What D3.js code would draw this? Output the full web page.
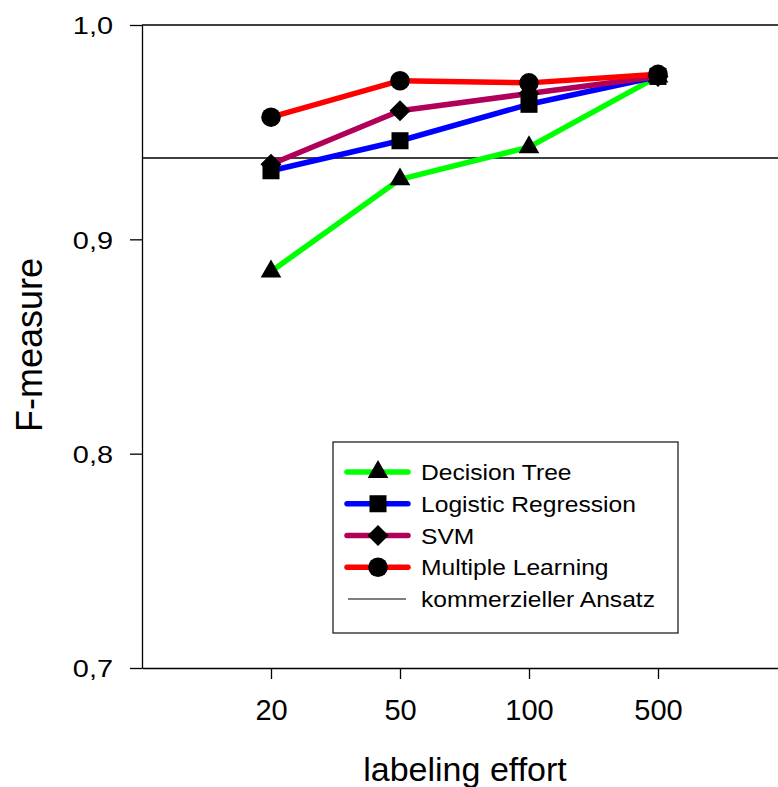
<!DOCTYPE html>
<html><head><meta charset="utf-8">
<script src="https://cdn.jsdelivr.net/npm/d3@7"></script>
<style>body{margin:0;background:#fff}svg{display:block}text{font-family:"Liberation Sans",Arial,sans-serif;fill:#000}</style>
</head><body>
<svg id="c" width="778" height="787"></svg>
<script>
const categories = ["20","50","100","500"];
const decisionTree = [0.885, 0.928, 0.943, 0.976];
const logisticRegression = [0.932, 0.946, 0.963, 0.976];
const svm = [0.935, 0.960, 0.968, 0.976];
const multipleLearning = [0.957, 0.974, 0.973, 0.977];
const commercial = 0.938;
const yTicks = [0.7, 0.8, 0.9, 1.0];
const seriesNames = ["Decision Tree","Logistic Regression","SVM","Multiple Learning"];
const commercialName = "kommerzieller Ansatz";

// square diamond symbol (rotated square)
const symbolDiamondSq = {
  draw(ctx, size) {
    const r = Math.sqrt(size / 2);
    ctx.moveTo(0, -r); ctx.lineTo(r, 0); ctx.lineTo(0, r); ctx.lineTo(-r, 0); ctx.closePath();
  }
};

const series = [
  {name: seriesNames[0], values: decisionTree, color: "#00ff00", sym: d3.symbolTriangle, size: 185},
  {name: seriesNames[1], values: logisticRegression, color: "#0000ff", sym: d3.symbolSquare, size: 290},
  {name: seriesNames[2], values: svm, color: "#b0005a", sym: symbolDiamondSq, size: 220},
  {name: seriesNames[3], values: multipleLearning, color: "#ff0000", sym: d3.symbolCircle, size: 300}
];

const svg = d3.select("#c");
const L = 142, T = 25, B = 668, R = 787;
const x = d3.scalePoint().domain(["", ...categories, " "]).range([L, R]);
const y = d3.scaleLinear().domain([0.7, 1.0]).range([B, T]);

// frame
svg.append("line").attr("x1", L).attr("x2", R).attr("y1", T).attr("y2", T).attr("stroke", "#000").attr("stroke-width", 1.3);
const yAxis = svg.append("g").attr("transform", `translate(${L},0)`)
  .call(d3.axisLeft(y).tickValues(yTicks).tickSize(12).tickSizeOuter(0).tickFormat(d => d3.format(".1f")(d).replace(".", ",")));
yAxis.select(".domain").attr("stroke-width", 1.3);
yAxis.selectAll(".tick line").attr("stroke-width", 1.3);
yAxis.selectAll(".tick text").attr("x", -24.6).attr("dy", "0.36em").attr("transform", "scale(1.18,1)")
  .style("font-size", "24.5px").style("font-family", '"Liberation Sans",Arial,sans-serif');

const xAxis = svg.append("g").attr("transform", `translate(0,${B})`)
  .call(d3.axisBottom(x).tickValues(categories).tickSize(11).tickSizeOuter(0));
xAxis.select(".domain").attr("stroke-width", 1.3);
xAxis.selectAll(".tick line").attr("stroke-width", 1.3);
xAxis.selectAll(".tick text").attr("y", 52).attr("dy", 0).style("font-size", "29px").style("font-family", '"Liberation Sans",Arial,sans-serif');

// commercial reference line
svg.append("line").attr("x1", L).attr("x2", R).attr("y1", y(commercial)).attr("y2", y(commercial))
  .attr("stroke", "#000").attr("stroke-width", 1.5);

const line = d3.line().x((d, i) => x(categories[i])).y(d => y(d));
series.forEach(s => {
  svg.append("path").datum(s.values).attr("d", line).attr("fill", "none")
    .attr("stroke", s.color).attr("stroke-width", 5.5).attr("stroke-linejoin", "round");
});
series.forEach(s => {
  svg.selectAll(null).data(s.values).enter().append("path")
    .attr("d", d3.symbol().type(s.sym).size(s.size))
    .attr("transform", (d, i) => `translate(${x(categories[i])},${y(d)})`)
    .attr("fill", "#000");
});

// axis titles
svg.append("text").attr("x", 465).attr("y", 781).attr("text-anchor", "middle").style("font-size", "34px").text("labeling effort");
svg.append("text").attr("transform", "translate(42,345) rotate(-90)").attr("text-anchor", "middle").style("font-size", "36px").text("F-measure");

// legend
const lg = svg.append("g");
lg.append("rect").attr("x", 333).attr("y", 442).attr("width", 345).attr("height", 191).attr("fill", "#fff").attr("stroke", "#222").attr("stroke-width", 1.3);
const rowY = d3.scaleLinear().domain([0, 4]).range([472, 599]);
series.forEach((s, i) => {
  const yy = rowY(i);
  lg.append("line").attr("x1", 347).attr("x2", 408).attr("y1", yy).attr("y2", yy).attr("stroke", s.color).attr("stroke-width", 5.5).attr("stroke-linecap", "round");
  lg.append("path").attr("d", d3.symbol().type(s.sym).size(s.size)).attr("transform", `translate(378,${yy})`).attr("fill", "#000");
  lg.append("text").attr("transform", `translate(421,${yy + 8}) scale(1.12,1)`).style("font-size", "22px").text(s.name);
});
const yy5 = rowY(4);
lg.append("line").attr("x1", 348).attr("x2", 406).attr("y1", yy5).attr("y2", yy5).attr("stroke", "#000").attr("stroke-width", 1.2);
lg.append("text").attr("transform", `translate(421,${yy5 + 8}) scale(1.12,1)`).style("font-size", "22px").text(commercialName);
</script>
</body></html>
